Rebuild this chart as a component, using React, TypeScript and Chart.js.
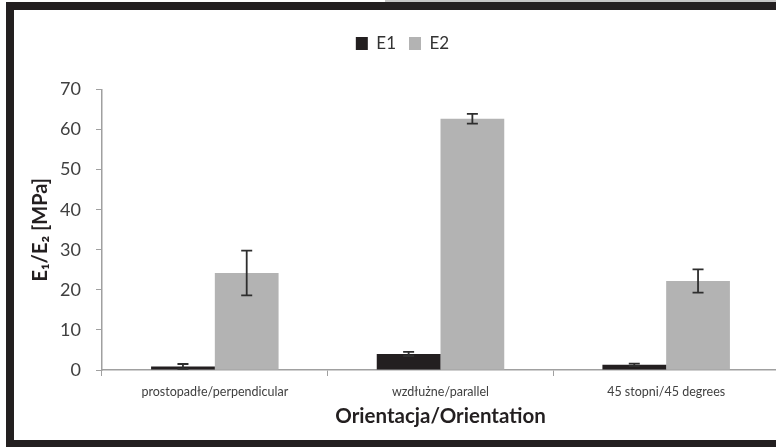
import React, { useEffect, useRef } from "react";
import { Chart, registerables } from "chart.js";

Chart.register(...registerables);

const categories = ["prostopadłe/perpendicular", "wzdłużne/parallel", "45 stopni/45 degrees"];
const seriesNames = ["E1", "E2"];
const e1Values = [0.9, 4.0, 1.3];
const e1Errors = [0.6, 0.5, 0.3];
const e2Values = [24.2, 62.7, 22.2];
const e2Errors = [5.6, 1.2, 2.9];
const yMin = 0;
const yMax = 70;
const yStep = 10;
const yTitle = "E₁/E₂ [MPa]";
const xTitle = "Orientacja/Orientation";

const FONT = "Lato, 'Open Sans', sans-serif";
const DARK = "#231f20";
const GRAY = "#b3b3b3";
const AXIS = "#a0a0a0";

const errorBarPlugin = {
  id: "errorBars",
  afterDatasetsDraw(chart: any) {
    const ctx = chart.ctx;
    const yScale = chart.scales.y;
    const errs = [e1Errors, e2Errors];
    ctx.save();
    ctx.strokeStyle = "#2e2e2e";
    ctx.lineWidth = 1.8;
    chart.data.datasets.forEach((ds: any, di: number) => {
      const meta = chart.getDatasetMeta(di);
      meta.data.forEach((bar: any, i: number) => {
        const v = ds.data[i];
        const e = errs[di][i];
        const x = bar.x;
        const yTop = yScale.getPixelForValue(v + e);
        const yBot = yScale.getPixelForValue(v - e);
        const cap = 5.5;
        ctx.beginPath();
        ctx.moveTo(x, yTop);
        ctx.lineTo(x, yBot);
        ctx.moveTo(x - cap, yTop);
        ctx.lineTo(x + cap, yTop);
        ctx.moveTo(x - cap, yBot);
        ctx.lineTo(x + cap, yBot);
        ctx.stroke();
      });
    });
    ctx.restore();
  },
};

export default function App() {
  const ref = useRef<HTMLCanvasElement | null>(null);

  useEffect(() => {
    if (!ref.current) return;
    const chart = new Chart(ref.current, {
      type: "bar",
      data: {
        labels: categories,
        datasets: [
          {
            label: seriesNames[0],
            data: e1Values,
            backgroundColor: DARK,
            borderWidth: 0,
            xAxisID: "x",
            categoryPercentage: 0.565,
            barPercentage: 1.0,
          },
          {
            label: seriesNames[1],
            data: e2Values,
            backgroundColor: GRAY,
            borderWidth: 0,
            xAxisID: "x",
            categoryPercentage: 0.565,
            barPercentage: 1.0,
          },
        ],
      },
      options: {
        responsive: false,
        animation: false,
        devicePixelRatio: 1,
        layout: { padding: { left: 26, right: 11, top: 22, bottom: 0 } },
        plugins: {
          legend: {
            display: true,
            position: "top",
            labels: {
              boxWidth: 12,
              boxHeight: 13,
              padding: 13,
              color: "#333333",
              font: { family: FONT, size: 17 },
            },
          },
          tooltip: { enabled: false },
        },
        scales: {
          x: {
            type: "category",
            position: "bottom",
            grid: {
              display: true,
              drawOnChartArea: false,
              drawTicks: true,
              tickLength: 6,
              color: AXIS,
              offset: true,
            },
            border: { display: true, color: AXIS, width: 1.5 },
            ticks: {
              color: "#404040",
              padding: 8,
              maxRotation: 0,
              autoSkip: false,
              font: { family: FONT, size: 12.5 },
            },
            title: {
              display: true,
              text: xTitle,
              color: DARK,
              font: { family: FONT, size: 20.5, weight: "bold" },
              padding: { top: 0, bottom: 18 },
            },
            afterFit(s: any) {
              s.height = 77;
            },
          },
          x2: {
            type: "category",
            position: "top",
            display: true,
            grid: { display: false, drawTicks: false },
            border: { display: false },
            ticks: { display: false },
            afterFit(s: any) {
              s.height = 27.5;
            },
          },
          y: {
            type: "linear",
            min: yMin,
            max: yMax,
            grid: {
              display: true,
              drawOnChartArea: false,
              drawTicks: true,
              tickLength: 6,
              color: AXIS,
            },
            border: { display: true, color: AXIS, width: 1.5 },
            ticks: {
              stepSize: yStep,
              color: "#404040",
              padding: 15,
              font: { family: FONT, size: 18 },
            },
            title: {
              display: true,
              text: yTitle,
              color: DARK,
              font: { family: FONT, size: 20, weight: "bold" },
              padding: { top: 3, bottom: 0 },
            },
            afterFit(s: any) {
              s.width = 76;
            },
          },
        },
      },
      plugins: [errorBarPlugin],
    } as any);
    return () => chart.destroy();
  }, []);

  return (
    <div
      style={{
        position: "fixed",
        left: 0,
        top: 0,
        width: 776,
        height: 447,
        overflow: "hidden",
        background: "#ffffff",
      }}
    >
      <canvas
        ref={ref}
        width={790}
        height={447}
        style={{ position: "absolute", left: 0, top: 0, width: 790, height: 447 }}
      />
      <div style={{ position: "absolute", left: 385, top: 0, width: 391, height: 2, background: "#c6c6c6" }} />
      <div style={{ position: "absolute", left: 6, top: 2, width: 770, height: 8, background: DARK }} />
      <div style={{ position: "absolute", left: 6, top: 2, width: 8, height: 445, background: DARK }} />
      <div style={{ position: "absolute", left: 6, top: 440, width: 770, height: 7, background: DARK }} />
    </div>
  );
}
